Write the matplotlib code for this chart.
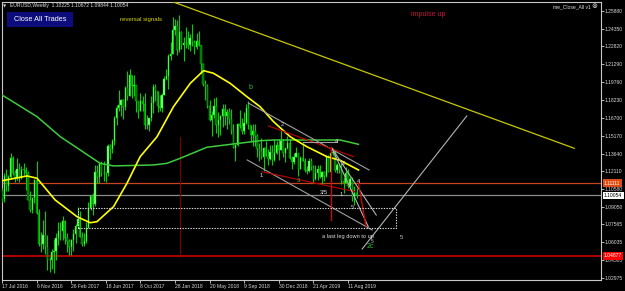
import matplotlib
matplotlib.use("Agg")
import matplotlib.pyplot as plt
import matplotlib.transforms as mtransforms
from matplotlib.patches import Rectangle
import numpy as np

plt.rcParams['font.family'] = ['Liberation Sans', 'DejaVu Sans']

# ---------------- data (EURUSD weekly) ----------------
date_labels = ["17 Jul 2016", "6 Nov 2016", "26 Feb 2017", "18 Jun 2017", "8 Oct 2017",
               "28 Jan 2018", "20 May 2018", "9 Sep 2018", "30 Dec 2018", "21 Apr 2019",
               "11 Aug 2019"]
date_label_idx = [0, 16, 32, 48, 64, 80, 96, 112, 128, 144, 160]

opens = [1.1040, 1.0976, 1.1174, 1.1086, 1.1161, 1.1324, 1.1197, 1.1155, 1.1232, 1.1154,
         1.1226, 1.1225, 1.1201, 1.0970, 1.0882, 1.0980, 1.1140, 1.0856, 1.0587, 1.0588,
         1.0662, 1.0560, 1.0451, 1.0453, 1.0517, 1.0530, 1.0640, 1.0701, 1.0696, 1.0782,
         1.0640, 1.0615, 1.0560, 1.0620, 1.0672, 1.0740, 1.0800, 1.0650, 1.0590, 1.0615,
         1.0727, 1.0895, 1.0998, 1.0932, 1.1208, 1.1164, 1.1283, 1.1195, 1.1198, 1.1195,
         1.1425, 1.1399, 1.1470, 1.1665, 1.1755, 1.1776, 1.1820, 1.1760, 1.1925, 1.1860,
         1.2035, 1.1942, 1.1950, 1.1815, 1.1732, 1.1818, 1.1785, 1.1607, 1.1607, 1.1665,
         1.1793, 1.1932, 1.1897, 1.1772, 1.1750, 1.1865, 1.2005, 1.2030, 1.2200, 1.2220,
         1.2425, 1.2460, 1.2252, 1.2405, 1.2295, 1.2310, 1.2310, 1.2290, 1.2355, 1.2320,
         1.2280, 1.2330, 1.2290, 1.2130, 1.1960, 1.1940, 1.1770, 1.1650, 1.1695, 1.1770,
         1.1610, 1.1655, 1.1685, 1.1745, 1.1685, 1.1720, 1.1660, 1.1565, 1.1410, 1.1435,
         1.1620, 1.1600, 1.1555, 1.1625, 1.1750, 1.1605, 1.1525, 1.1560, 1.1512, 1.1400,
         1.1385, 1.1335, 1.1415, 1.1340, 1.1315, 1.1380, 1.1305, 1.1370, 1.1440, 1.1395,
         1.1470, 1.1365, 1.1410, 1.1455, 1.1325, 1.1295, 1.1335, 1.1365, 1.1235, 1.1325,
         1.1300, 1.1220, 1.1215, 1.1300, 1.1245, 1.1150, 1.1200, 1.1235, 1.1160, 1.1205,
         1.1170, 1.1335, 1.1210, 1.1370, 1.1370, 1.1225, 1.1270, 1.1220, 1.1125, 1.1110,
         1.1200, 1.1090, 1.1145, 1.0990, 1.10225]
highs = [1.1070, 1.1198, 1.1234, 1.1184, 1.1366, 1.1343, 1.1222, 1.1328, 1.1283, 1.1257,
         1.1282, 1.1248, 1.1211, 1.1039, 1.0990, 1.1143, 1.1300, 1.0891, 1.0688, 1.0796,
         1.0874, 1.0668, 1.0478, 1.0550, 1.0630, 1.0685, 1.0775, 1.0775, 1.0829, 1.0797,
         1.0680, 1.0633, 1.0629, 1.0715, 1.0761, 1.0906, 1.0875, 1.0690, 1.0680, 1.0778,
         1.0950, 1.0996, 1.1023, 1.1268, 1.1268, 1.1285, 1.1296, 1.1296, 1.1210, 1.1445,
         1.1445, 1.1490, 1.1683, 1.1777, 1.1910, 1.1828, 1.1830, 1.1940, 1.2070, 1.2092,
         1.2040, 1.2034, 1.1950, 1.1815, 1.1880, 1.1860, 1.1880, 1.1690, 1.1665, 1.1860,
         1.1961, 1.1960, 1.1897, 1.1863, 1.1885, 1.2025, 1.2090, 1.2217, 1.2323, 1.2537,
         1.2520, 1.2507, 1.2555, 1.2410, 1.2365, 1.2445, 1.2413, 1.2388, 1.2478, 1.2340,
         1.2396, 1.2415, 1.2295, 1.2140, 1.1995, 1.1960, 1.1825, 1.1725, 1.1840, 1.1852,
         1.1720, 1.1690, 1.1790, 1.1790, 1.1745, 1.1750, 1.1745, 1.1620, 1.1445, 1.1625,
         1.1735, 1.1670, 1.1720, 1.1790, 1.1815, 1.1610, 1.1620, 1.1620, 1.1530, 1.1455,
         1.1500, 1.1420, 1.1472, 1.1400, 1.1440, 1.1440, 1.1485, 1.1475, 1.1490, 1.1570,
         1.1490, 1.1410, 1.1515, 1.1490, 1.1340, 1.1370, 1.1420, 1.1365, 1.1345, 1.1450,
         1.1325, 1.1255, 1.1325, 1.1325, 1.1265, 1.1265, 1.1265, 1.1265, 1.1215, 1.1215,
         1.1350, 1.1350, 1.1380, 1.1412, 1.1395, 1.1285, 1.1285, 1.1285, 1.1160, 1.1250,
         1.1230, 1.1160, 1.1165, 1.1085, 1.10672]
lows = [1.0952, 1.0952, 1.1046, 1.1046, 1.1146, 1.1180, 1.1123, 1.1134, 1.1120, 1.1150,
        1.1176, 1.1048, 1.0970, 1.0860, 1.0852, 1.0944, 1.0850, 1.0568, 1.0518, 1.0548,
        1.0505, 1.0366, 1.0352, 1.0375, 1.0340, 1.0453, 1.0580, 1.0622, 1.0620, 1.0590,
        1.0521, 1.0494, 1.0494, 1.0525, 1.0600, 1.0740, 1.0650, 1.0570, 1.0570, 1.0600,
        1.0727, 1.0880, 1.0839, 1.0915, 1.1108, 1.1110, 1.1168, 1.1131, 1.1118, 1.1170,
        1.1313, 1.1370, 1.1434, 1.1612, 1.1730, 1.1688, 1.1662, 1.1740, 1.1823, 1.1860,
        1.1838, 1.1860, 1.1716, 1.1669, 1.1730, 1.1730, 1.1574, 1.1570, 1.1555, 1.1640,
        1.1709, 1.1810, 1.1717, 1.1730, 1.1716, 1.1862, 1.1995, 1.1916, 1.2165, 1.2215,
        1.2380, 1.2206, 1.2235, 1.2260, 1.2155, 1.2270, 1.2260, 1.2240, 1.2285, 1.2215,
        1.2260, 1.2282, 1.2055, 1.1940, 1.1820, 1.1750, 1.1644, 1.1510, 1.1670, 1.1540,
        1.1508, 1.1525, 1.1590, 1.1610, 1.1575, 1.1615, 1.1530, 1.1410, 1.1301, 1.1430,
        1.1580, 1.1530, 1.1530, 1.1620, 1.1575, 1.1460, 1.1430, 1.1430, 1.1335, 1.1300,
        1.1315, 1.1215, 1.1340, 1.1265, 1.1310, 1.1270, 1.1300, 1.1360, 1.1305, 1.1395,
        1.1335, 1.1290, 1.1405, 1.1320, 1.1235, 1.1275, 1.1335, 1.1175, 1.1230, 1.1300,
        1.1210, 1.1185, 1.1210, 1.1225, 1.1110, 1.1135, 1.1135, 1.1155, 1.1105, 1.1125,
        1.1160, 1.1205, 1.1180, 1.1355, 1.1210, 1.1195, 1.1200, 1.1100, 1.1026, 1.1110,
        1.1065, 1.1050, 1.0960, 1.0926, 1.09844]
closes = [1.0976, 1.1174, 1.1086, 1.1161, 1.1324, 1.1197, 1.1155, 1.1232, 1.1154, 1.1226,
          1.1225, 1.1201, 1.0970, 1.0882, 1.0980, 1.1140, 1.0856, 1.0587, 1.0588, 1.0662,
          1.0560, 1.0451, 1.0453, 1.0517, 1.0530, 1.0640, 1.0701, 1.0696, 1.0782, 1.0640,
          1.0615, 1.0560, 1.0620, 1.0672, 1.0740, 1.0800, 1.0650, 1.0590, 1.0615, 1.0727,
          1.0895, 1.0998, 1.0932, 1.1208, 1.1164, 1.1283, 1.1195, 1.1198, 1.1195, 1.1425,
          1.1399, 1.1470, 1.1665, 1.1755, 1.1776, 1.1820, 1.1760, 1.1925, 1.1860, 1.2035,
          1.1942, 1.1950, 1.1815, 1.1732, 1.1818, 1.1785, 1.1607, 1.1607, 1.1665, 1.1793,
          1.1932, 1.1897, 1.1772, 1.1750, 1.1865, 1.2005, 1.2030, 1.2200, 1.2220, 1.2425,
          1.2460, 1.2252, 1.2405, 1.2295, 1.2310, 1.2310, 1.2290, 1.2355, 1.2320, 1.2280,
          1.2330, 1.2290, 1.2130, 1.1960, 1.1940, 1.1770, 1.1650, 1.1695, 1.1770, 1.1610,
          1.1655, 1.1685, 1.1745, 1.1685, 1.1720, 1.1660, 1.1565, 1.1410, 1.1435, 1.1620,
          1.1600, 1.1555, 1.1625, 1.1750, 1.1605, 1.1525, 1.1560, 1.1512, 1.1400, 1.1385,
          1.1335, 1.1415, 1.1340, 1.1315, 1.1380, 1.1305, 1.1370, 1.1440, 1.1395, 1.1470,
          1.1365, 1.1410, 1.1455, 1.1325, 1.1295, 1.1335, 1.1365, 1.1235, 1.1325, 1.1300,
          1.1220, 1.1215, 1.1300, 1.1245, 1.1150, 1.1200, 1.1235, 1.1160, 1.1205, 1.1170,
          1.1335, 1.1210, 1.1370, 1.1370, 1.1225, 1.1270, 1.1220, 1.1125, 1.1110, 1.1200,
          1.1090, 1.1145, 1.0990, 1.1025, 1.10054]

# moving averages (week index, price)
yellow_ma_idx = [0, 11.6, 16.2, 24.6, 34.7, 40.8, 43.9, 51.6, 57.8, 63.9, 71.7, 79.3, 87.1,
                 93.2, 97.8, 105.5, 113.3, 119.4, 125.6, 133.3, 141.0, 150.3, 156.4, 164.9]
yellow_ma = [1.1131, 1.1172, 1.1152, 1.0966, 1.0823, 1.0771, 1.0780, 1.0909, 1.1109, 1.1337,
             1.1508, 1.1765, 1.1966, 1.2074, 1.2052, 1.1966, 1.1851, 1.1765, 1.1637, 1.1508,
             1.1423, 1.1337, 1.1306, 1.1223]
green_ma_idx = [0, 16.2, 27.0, 36.2, 45.4, 51.6, 70.1, 76.3, 82.4, 94.8, 107.1, 119.4, 125.6,
                141.0, 156.4, 164.9]
green_ma = [1.1866, 1.1680, 1.1508, 1.1394, 1.1280, 1.1258, 1.1266, 1.1280, 1.1323, 1.1418,
            1.1446, 1.1474, 1.1480, 1.1480, 1.1480, 1.1443]

ytick_vals = [1.25880, 1.24350, 1.22820, 1.21290, 1.19760, 1.18230, 1.16700, 1.15170,
              1.13640, 1.12110, 1.10580, 1.09050, 1.07565, 1.06035, 1.04505, 1.02975]

level_orange = 1.11111
level_bid = 1.10054
level_red = 1.04877

# ---------------- figure ----------------
W, H = 625, 291
fig = plt.figure(figsize=(W / 100, H / 100), dpi=100, facecolor='black')
ax = fig.add_axes([2 / W, 11.5 / H, 598.5 / W, 278 / H])
ax.set_facecolor('black')
ax.set_xlim(0.14, 0.14 + 598.5 / 2.163)
ax.set_ylim(1.02846, 1.26668)

n = len(closes)
x = np.arange(n)
o = np.array(opens); h = np.array(highs); l = np.array(lows); c = np.array(closes)
up = c >= o

# horizontal levels
ax.axhline(level_orange, color='#c8441c', lw=0.9, zorder=1)
ax.axhline(level_bid, color='#8c8c8c', lw=0.9, zorder=1)
ax.axhline(level_red, color='#e00000', lw=1.1, zorder=1)

# candles
ax.vlines(x, l, h, color='#00d000', lw=0.8, zorder=3)
bottoms = np.minimum(o, c)
heights = np.maximum(np.abs(c - o), 0.0004)
ax.bar(x[up], heights[up], bottom=bottoms[up], width=0.6, color='#8cff8c',
       edgecolor='#00e000', linewidth=0.3, zorder=4)
ax.bar(x[~up], heights[~up], bottom=bottoms[~up], width=0.6, color='#006a00',
       edgecolor='#00d000', linewidth=0.3, zorder=4)

# moving averages
ax.plot(green_ma_idx, green_ma, color='#3ccc3c', lw=1.1, zorder=5)
ax.plot(yellow_ma_idx, yellow_ma, color='#ffff00', lw=1.2, zorder=5)

# drawn objects
ax.plot([78.6, 264.7], [1.2667, 1.1409], color='#c8c800', lw=0.9, zorder=6)       # long yellow trendline
ax.plot([166.6, 215.0], [1.0546, 1.1686], color='#b4b4b4', lw=0.8, zorder=6)      # gray up line
ax.plot([113.9, 169.8], [1.1797, 1.1223], color='#a0a0a0', lw=0.8, zorder=6)      # upper gray channel
ax.plot([113.4, 171.2], [1.1309, 1.0709], color='#a0a0a0', lw=0.8, zorder=6)      # lower gray channel
ax.plot([123.3, 162.6], [1.1600, 1.1337], color='#c00000', lw=0.8, zorder=6)      # upper red line
ax.plot([120.2, 163.3], [1.1208, 1.1037], color='#c00000', lw=0.8, zorder=6)      # lower red line
ax.plot([139.3, 154.9], [1.1466, 1.1466], color='#a0a0a0', lw=0.8, zorder=6)      # gray horizontal
ax.plot([152.6, 173.1], [1.1409, 1.0837], color='#b4b4b4', lw=0.8, zorder=6)
ax.plot([152.6, 169.4], [1.1409, 1.0737], color='#b4b4b4', lw=0.8, zorder=6)
ax.plot([164.9, 168.4], [1.1109, 1.0737], color='#e00000', lw=0.9, zorder=6)      # red down leg
ax.plot([152.1, 152.1], [1.1423, 1.0795], color='#e00000', lw=0.9, zorder=6)      # red vertical
ax.plot([82.4, 82.4], [1.1503, 1.0475], color='#7a0000', lw=0.8, zorder=2)        # dark red vertical
rect = Rectangle((34.95, 1.0728), 182.2 - 34.95, 1.0895 - 1.0728, fill=False,
                 edgecolor='#e0e0e0', lw=0.8, linestyle=(0, (1.2, 1.2)), zorder=6)
ax.add_patch(rect)

# wave labels
lbl = dict(fontsize=4.2, ha='center', va='center', zorder=7)
ax.text(114.8, 1.1933, 'b', color='#30c030', fontsize=5, ha='center', va='center')
ax.text(129.9, 1.1617, '2', color='#c8c8c8', **lbl)
ax.text(154.9, 1.1463, '4', color='#e0e0e0', **lbl)
ax.text(157.9, 1.1280, '2', color='#e0e0e0', **lbl)
ax.text(119.7, 1.1172, '1', color='#e0e0e0', **lbl)
ax.text(137.1, 1.1137, '3', color='#30c030', **lbl)
ax.text(149.0, 1.1028, '3/5', color='#e0e0e0', **lbl)
ax.text(156.7, 1.1009, '1', color='#e0e0e0', **lbl)
ax.text(164.9, 1.1123, '4', color='#e0e0e0', **lbl)
ax.text(162.1, 1.0900, '5', color='#c8c8c8', **lbl)
ax.text(160.1, 1.0649, 'a last leg down to up', color='#e0e0e0', fontsize=4.1,
        ha='center', va='center', zorder=7)
ax.text(184.9, 1.0646, '5', color='#c8c8c8', **lbl)
ax.text(171.1, 1.0609, '5', color='#c8c8c8', fontsize=3.5, ha='center', va='center')
ax.text(170.3, 1.0566, '2c', color='#30c030', fontsize=5, ha='center', va='center')

# axes styling
for side in ['left', 'right', 'top', 'bottom']:
    ax.spines[side].set_color('#c8c8c8')
    ax.spines[side].set_linewidth(0.8)
ax.yaxis.tick_right()
ax.set_yticks(ytick_vals)
ax.set_yticklabels([f"{v:.5f}" for v in ytick_vals])
ax.tick_params(axis='y', colors='#d8d8d8', labelsize=3.6, length=2, width=0.6, pad=1.2,
               direction='out')
ax.set_xticks(date_label_idx)
ax.set_xticklabels(date_labels, ha='left')
ax.tick_params(axis='x', colors='#d8d8d8', labelsize=3.6, length=2, width=0.6, pad=1.0,
               direction='out')
for lab in ax.get_xticklabels():
    lab.set_horizontalalignment('left')

# special price boxes on the right scale
trans = mtransforms.blended_transform_factory(ax.transAxes, ax.transData)
box = dict(fontsize=3.6, transform=trans, ha='left', va='center', clip_on=False, zorder=10)
ax.text(1.006, level_orange, f"{level_orange:.5f}", color='white',
        bbox=dict(boxstyle='square,pad=0.25', fc='#e04a10', ec='none'), **box)
ax.text(1.006, level_bid, f"{level_bid:.5f}", color='black',
        bbox=dict(boxstyle='square,pad=0.25', fc='white', ec='none'), **box)
ax.text(1.006, level_red, f"{level_red:.5f}", color='white',
        bbox=dict(boxstyle='square,pad=0.25', fc='#ff0000', ec='none'), **box)

# overlay texts (figure pixel positions)
def fp(px, py):
    return px / W, 1 - py / H

fig.text(*fp(3, 6), '\u25bc', color='#d0d0d0', fontsize=3, ha='left', va='center',
         family=['DejaVu Sans'])
fig.text(*fp(10, 6), 'EURUSD,Weekly  1.10225 1.10672 1.09844 1.10054', color='#e0e0e0',
         fontsize=3.6, ha='left', va='center')
btn = Rectangle(fp(6.7, 26.7), 66 / W, 15 / H, transform=fig.transFigure,
                facecolor='#0c0c7c', edgecolor='none', zorder=20)
fig.add_artist(btn)
fig.text(*fp(39.7, 19.3), 'Close All Trades', color='white', fontsize=5.2,
         ha='center', va='center', zorder=21)
fig.text(*fp(120, 19), 'reversal signals', color='#d8d800', fontsize=4.3, ha='left',
         va='center')
fig.text(*fp(410.7, 15), 'impulse up', color='#c8143c', fontsize=5, ha='left', va='center')
fig.text(*fp(590.5, 6.8), 'me_Close_All v1', color='#e0e0e0', fontsize=3.6, ha='right',
         va='center')
fig.text(*fp(594, 6.5), '\u2297', color='#e0e0e0', fontsize=5, ha='center', va='center',
         family=['DejaVu Sans'])

fig.savefig('out.png', dpi=100, facecolor='black')
